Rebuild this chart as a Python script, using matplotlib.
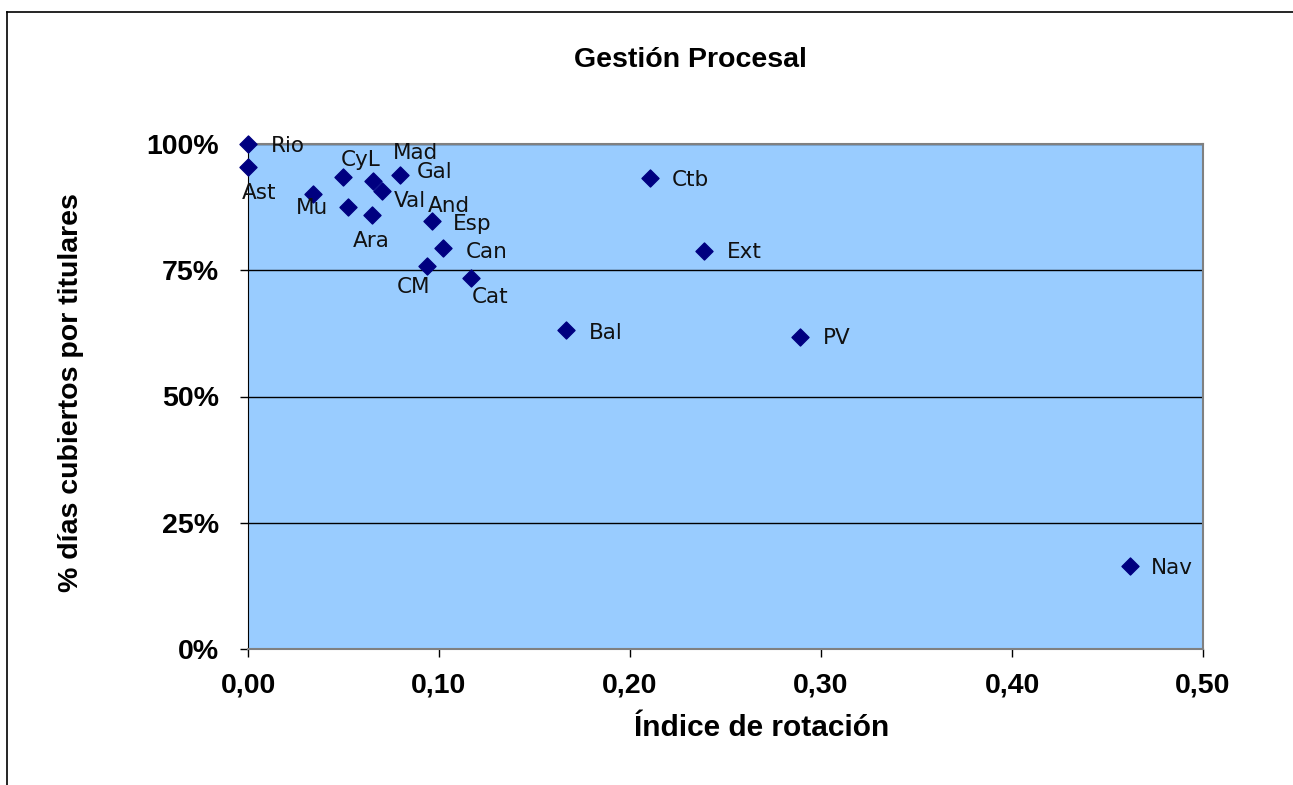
import matplotlib.pyplot as plt
from matplotlib.ticker import FuncFormatter, MultipleLocator

FIG_W, FIG_H = 1293, 785

# datos
regiones = ['Rio', 'Ast', 'Mu', 'CyL', 'Mad', 'Gal', 'Val', 'And', 'Ara',
            'Esp', 'Can', 'CM', 'Cat', 'Ctb', 'Ext', 'Bal', 'PV', 'Nav']
indice_rotacion = [0.0, 0.0, 0.034, 0.0497, 0.0654, 0.0796, 0.0702, 0.0524, 0.0649,
                   0.0963, 0.102, 0.0937, 0.1168, 0.2105, 0.2387, 0.1665, 0.289, 0.4618]
dias_titulares = [1.00, 0.955, 0.901, 0.935, 0.927, 0.939, 0.907, 0.875, 0.859,
                  0.848, 0.794, 0.758, 0.735, 0.933, 0.788, 0.632, 0.618, 0.164]

# desplazamiento de cada etiqueta (píxeles)
offsets = {
    'Rio': (40, -2), 'Ast': (11, -26), 'Mu': (-1, -14), 'CyL': (18, 17),
    'Mad': (43, 28), 'Gal': (35, 3), 'Val': (28, -10), 'And': (101, 1),
    'Ara': (-1, -26), 'Esp': (40, -3), 'Can': (44, -4), 'CM': (-13, -21),
    'Cat': (19, -19), 'Ctb': (40, -2), 'Ext': (40, -1), 'Bal': (40, -3),
    'PV': (37, -1), 'Nav': (42, -2),
}


def main():
    fig = plt.figure(figsize=(FIG_W / 100, FIG_H / 100), dpi=100)
    ax = fig.add_axes([248 / FIG_W, 1 - 649 / FIG_H, (1203 - 248) / FIG_W, (649 - 144) / FIG_H])

    # marco del gráfico (solo bordes izquierdo y superior visibles)
    fig.add_artist(plt.Line2D([7 / FIG_W, 7 / FIG_W], [0, 1 - 12 / FIG_H], color='black', lw=1.2))
    fig.add_artist(plt.Line2D([7 / FIG_W, 1], [1 - 12 / FIG_H, 1 - 12 / FIG_H], color='black', lw=1.2))

    ax.set_facecolor('#99CCFF')
    for side in ['top', 'right', 'bottom']:
        ax.spines[side].set_color('#808080')
        ax.spines[side].set_linewidth(1.5)
    ax.spines['left'].set_color('black')

    ax.set_xlim(0, 0.5)
    ax.set_ylim(0, 1)
    ax.yaxis.set_major_locator(MultipleLocator(0.25))
    ax.xaxis.set_major_locator(MultipleLocator(0.1))
    ax.yaxis.set_major_formatter(FuncFormatter(lambda v, p: f"{v * 100:.0f}%"))
    ax.xaxis.set_major_formatter(FuncFormatter(lambda v, p: f"{v:.2f}".replace('.', ',')))
    ax.grid(axis='y', color='black', lw=1)
    ax.set_axisbelow(True)

    ax.tick_params(axis='both', direction='out', length=6, width=1, color='black',
                   labelsize=20.5)
    ax.tick_params(axis='x', pad=11)
    ax.tick_params(axis='y', pad=15)
    for lab in ax.get_xticklabels() + ax.get_yticklabels():
        lab.set_fontweight('bold')
        lab.set_family('Liberation Sans')

    ax.scatter(indice_rotacion, dias_titulares, marker='D', s=75, color='#000080',
               zorder=3, clip_on=False)

    for name, x, y in zip(regiones, indice_rotacion, dias_titulares):
        dx, dy = offsets[name]
        ax.annotate(name, (x, y), xytext=(dx, dy), textcoords='offset pixels',
                    ha='center', va='center', fontsize=15.5, family='DejaVu Sans',
                    color='#111111', annotation_clip=False)

    fig.text(690 / FIG_W, 1 - 60 / FIG_H, 'Gestión Procesal', ha='center', va='center',
             fontsize=20.5, fontweight='bold', family='Liberation Sans')
    fig.text(762 / FIG_W, 1 - 728 / FIG_H, 'Índice de rotación', ha='center', va='center',
             fontsize=21.5, fontweight='bold', family='Liberation Sans')
    fig.text(71 / FIG_W, 1 - 393 / FIG_H, '% días cubiertos por titulares', ha='center',
             va='center', rotation=90, fontsize=20.5, fontweight='bold', family='Liberation Sans')

    fig.savefig('out.png', dpi=100)


if __name__ == "__main__":
    main()
